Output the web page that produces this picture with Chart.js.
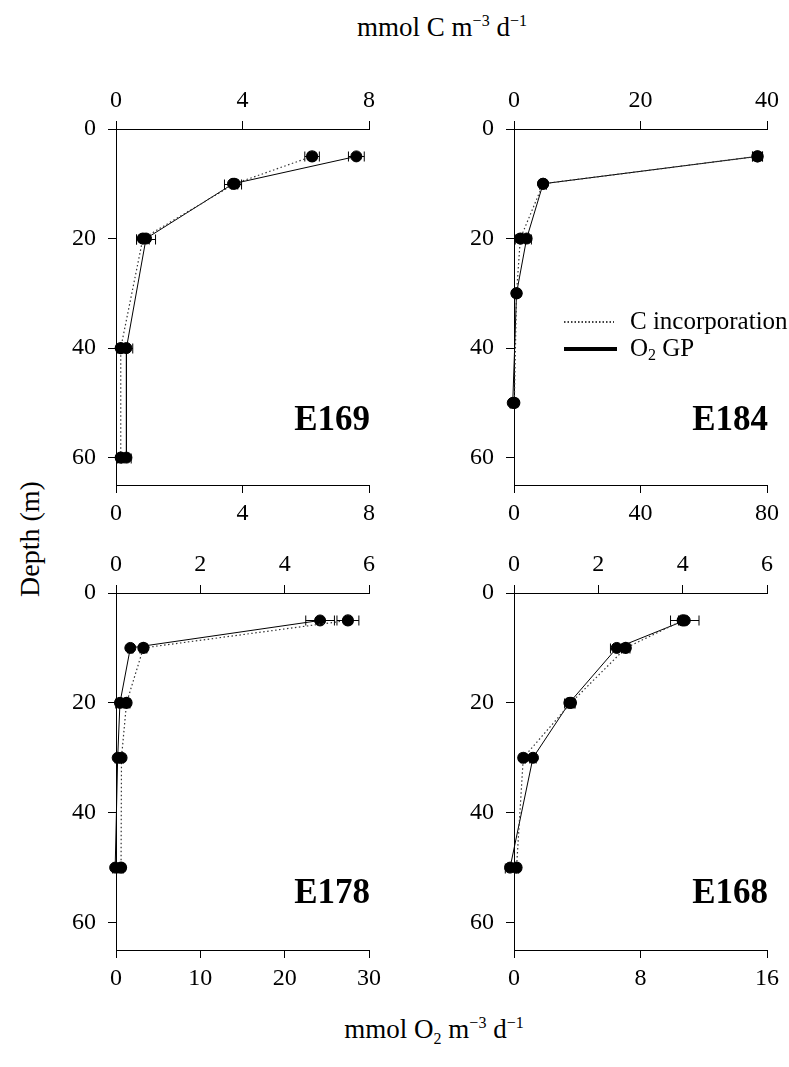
<!DOCTYPE html>
<html>
<head>
<meta charset="utf-8">
<script src="https://cdn.jsdelivr.net/npm/chart.js@4.4.0/dist/chart.umd.min.js"></script>
<style>
  body { margin: 0; background: #fff; width: 789px; height: 1067px; position: relative; overflow: hidden;
         font-family: "Liberation Serif", "Times New Roman", serif; color: #000; }
  canvas { position: absolute; }
  .ttl { position: absolute; font-size: 27px; line-height: 31px; white-space: nowrap; transform: translateX(-50%); }
  .ttl sup, .ttl sub { font-size: 16px; line-height: 0; }
  #ylab { position: absolute; left: 30px; top: 539px; font-size: 28px; white-space: nowrap;
          transform: translate(-50%, -50%) rotate(-90deg); }
</style>
</head>
<body>
<div class="ttl" style="left:442px; top:12px;">mmol C m<sup>−3</sup> d<sup>−1</sup></div>
<div id="ylab">Depth (m)</div>
<div class="ttl" style="left:434px; top:1014px;">mmol O<sub>2</sub> m<sup>−3</sup> d<sup>−1</sup></div>

<script>
// depth ticks shared by all panels
const depthTicks = [0, 20, 40, 60];

// E169
const depthE169 = [5, 10, 20, 40, 60];
const cE169 = [6.2, 3.75, 0.85, 0.15, 0.15];
const cErrE169 = [0.23, 0.1, 0.2, 0.1, 0.1];
const o2E169 = [7.6, 3.7, 0.95, 0.33, 0.33];
const o2ErrE169 = [0.25, 0.27, 0.3, 0.2, 0.15];
const cTicksE169 = [0, 4, 8];
const o2TicksE169 = [0, 4, 8];

// E184
const depthE184 = [5, 10, 20, 30, 50];
const cE184 = [38.5, 4.6, 1.0, 0.4, 0.05];
const cErrE184 = [0.8, 0.5, 0.8, 0.2, 0.2];
const o2E184 = [77, 9.2, 4.0, 0.8, -0.4];
const o2ErrE184 = [1.5, 1.0, 1.5, 0.4, 0.8];
const cTicksE184 = [0, 20, 40];
const o2TicksE184 = [0, 40, 80];

// E178
const depthE178 = [5, 10, 20, 30, 50];
const cE178 = [5.5, 0.65, 0.25, 0.13, 0.12];
const cErrE178 = [0.26, 0.08, 0.08, 0.05, 0.05];
const o2E178 = [24.2, 1.7, 0.47, 0.2, -0.1];
const o2ErrE178 = [1.7, 0.3, 0.5, 0.3, 0.3];
const cTicksE178 = [0, 2, 4, 6];
const o2TicksE178 = [0, 10, 20, 30];

// E168
const depthE168 = [5, 10, 20, 30, 50];
const cE168 = [4.0, 2.65, 1.35, 0.22, 0.06];
const cErrE168 = [0.1, 0.1, 0.1, 0.05, 0.05];
const o2E168 = [10.8, 6.5, 3.5, 1.2, -0.25];
const o2ErrE168 = [0.9, 0.4, 0.3, 0.2, 0.3];
const cTicksE168 = [0, 2, 4, 6];
const o2TicksE168 = [0, 8, 16];

const FONT = "'Liberation Serif', 'Times New Roman', serif";
Chart.defaults.font.family = FONT;
Chart.defaults.color = '#000';

const panels = [
  { name: 'E169', depth: depthE169, c: cE169, cErr: cErrE169, o2: o2E169, o2Err: o2ErrE169,
    cTicks: cTicksE169, o2Ticks: o2TicksE169,
    left: 0, top: 60, w: 394, h: 480, leftW: 116, topH: 69, bottomH: 55, padRight: 25, labelY: 430, legend: false },
  { name: 'E184', depth: depthE184, c: cE184, cErr: cErrE184, o2: o2E184, o2Err: o2ErrE184,
    cTicks: cTicksE184, o2Ticks: o2TicksE184,
    left: 395, top: 60, w: 394, h: 480, leftW: 119, topH: 69, bottomH: 55, padRight: 22, labelY: 430, legend: true },
  { name: 'E178', depth: depthE178, c: cE178, cErr: cErrE178, o2: o2E178, o2Err: o2ErrE178,
    cTicks: cTicksE178, o2Ticks: o2TicksE178,
    left: 0, top: 545, w: 394, h: 470, leftW: 116, topH: 48, bottomH: 65, padRight: 25, labelY: 903, legend: false },
  { name: 'E168', depth: depthE168, c: cE168, cErr: cErrE168, o2: o2E168, o2Err: o2ErrE168,
    cTicks: cTicksE168, o2Ticks: o2TicksE168,
    left: 395, top: 545, w: 394, h: 470, leftW: 119, topH: 48, bottomH: 65, padRight: 22, labelY: 903, legend: false }
];

// horizontal error bars with small caps
const errorBars = {
  id: 'errorBars',
  afterDatasetsDraw(chart) {
    const ctx = chart.ctx;
    const ys = chart.scales.y;
    ctx.save();
    ctx.strokeStyle = '#000';
    ctx.lineWidth = 1;
    chart.data.datasets.forEach(ds => {
      const xs = chart.scales[ds.xAxisID];
      ds.data.forEach((pt, i) => {
        const e = ds.err[i];
        const y = Math.round(ys.getPixelForValue(pt.y)) + 0.5;
        const x1 = xs.getPixelForValue(pt.x - e);
        const x2 = xs.getPixelForValue(pt.x + e);
        ctx.beginPath();
        ctx.moveTo(x1, y); ctx.lineTo(x2, y);
        ctx.moveTo(x1, y - 5); ctx.lineTo(x1, y + 5);
        ctx.moveTo(x2, y - 5); ctx.lineTo(x2, y + 5);
        ctx.stroke();
      });
    });
    ctx.restore();
  }
};

// station name and (for one panel) the legend
const annotations = {
  id: 'annotations',
  afterDraw(chart, args, opts) {
    const p = opts.panel;
    const ctx = chart.ctx;
    const a = chart.chartArea;
    ctx.save();
    ctx.fillStyle = '#000';
    ctx.font = 'bold 35px ' + FONT;
    ctx.textAlign = 'right';
    ctx.textBaseline = 'alphabetic';
    ctx.fillText(p.name, a.right + 1, p.labelY - p.top);
    if (p.legend) {
      const lx = 564 - p.left, tx = 630 - p.left;
      const y1 = 322 - p.top, y2 = 349 - p.top;
      ctx.strokeStyle = '#000';
      ctx.lineWidth = 1.5;
      ctx.setLineDash([1.5, 2]);
      ctx.beginPath(); ctx.moveTo(lx, y1); ctx.lineTo(lx + 50, y1); ctx.stroke();
      ctx.setLineDash([]);
      ctx.lineWidth = 4;
      ctx.beginPath(); ctx.moveTo(lx, y2); ctx.lineTo(lx + 53, y2); ctx.stroke();
      ctx.textAlign = 'left';
      ctx.textBaseline = 'middle';
      ctx.font = '25px ' + FONT;
      ctx.fillText('C incorporation', tx, y1);
      ctx.fillText('O', tx, y2);
      const ow = ctx.measureText('O').width;
      ctx.font = '16px ' + FONT;
      ctx.fillText('2', tx + ow, y2 + 7);
      const sw = ctx.measureText('2').width;
      ctx.font = '25px ' + FONT;
      ctx.fillText(' GP', tx + ow + sw, y2);
    }
    ctx.restore();
  }
};

function axisStyle(extra) {
  return Object.assign({
    type: 'linear',
    grid: { drawOnChartArea: false, drawTicks: true, tickLength: 8, color: '#000', lineWidth: 1 },
    border: { display: true, color: '#000', width: 1 },
    ticks: { color: '#000', font: { family: FONT, size: 24 }, maxRotation: 0, padding: 6 }
  }, extra);
}

panels.forEach(p => {
  const cv = document.createElement('canvas');
  cv.width = p.w; cv.height = p.h;
  cv.style.left = p.left + 'px'; cv.style.top = p.top + 'px';
  cv.style.width = p.w + 'px'; cv.style.height = p.h + 'px';
  document.body.appendChild(cv);

  const cMax = p.cTicks[p.cTicks.length - 1];
  const oMax = p.o2Ticks[p.o2Ticks.length - 1];

  new Chart(cv.getContext('2d'), {
    type: 'scatter',
    data: {
      datasets: [
        {
          label: 'C incorporation',
          xAxisID: 'xC',
          data: p.depth.map((d, i) => ({ x: p.c[i], y: d })),
          err: p.cErr,
          showLine: true,
          borderColor: '#333',
          borderWidth: 1.2,
          borderDash: [1.5, 2.5],
          pointRadius: 5.5,
          pointBackgroundColor: '#000',
          pointBorderColor: '#000',
          clip: false
        },
        {
          label: 'O2 GP',
          xAxisID: 'xO',
          data: p.depth.map((d, i) => ({ x: p.o2[i], y: d })),
          err: p.o2Err,
          showLine: true,
          borderColor: '#000',
          borderWidth: 1,
          pointRadius: 5.5,
          pointBackgroundColor: '#000',
          pointBorderColor: '#000',
          clip: false
        }
      ]
    },
    options: {
      responsive: false,
      animation: false,
      devicePixelRatio: 1,
      layout: { padding: { left: 0, right: p.padRight, top: 0, bottom: 0 } },
      plugins: { legend: { display: false }, tooltip: { enabled: false }, annotations: { panel: p } },
      scales: {
        xO: axisStyle({
          position: 'bottom', min: 0, max: oMax,
          afterBuildTicks: ax => { ax.ticks = p.o2Ticks.map(v => ({ value: v })); },
          afterFit: ax => { ax.height = p.bottomH; }
        }),
        xC: axisStyle({
          position: 'top', min: 0, max: cMax,
          afterBuildTicks: ax => { ax.ticks = p.cTicks.map(v => ({ value: v })); },
          afterFit: ax => { ax.height = p.topH; }
        }),
        y: axisStyle({
          position: 'left', min: 0, max: 65, reverse: true,
          afterBuildTicks: ax => { ax.ticks = depthTicks.map(v => ({ value: v })); },
          afterFit: ax => { ax.width = p.leftW; },
          ticks: { color: '#000', font: { family: FONT, size: 24 }, padding: 12 }
        })
      }
    },
    plugins: [errorBars, annotations]
  });
});
</script>
</body>
</html>
